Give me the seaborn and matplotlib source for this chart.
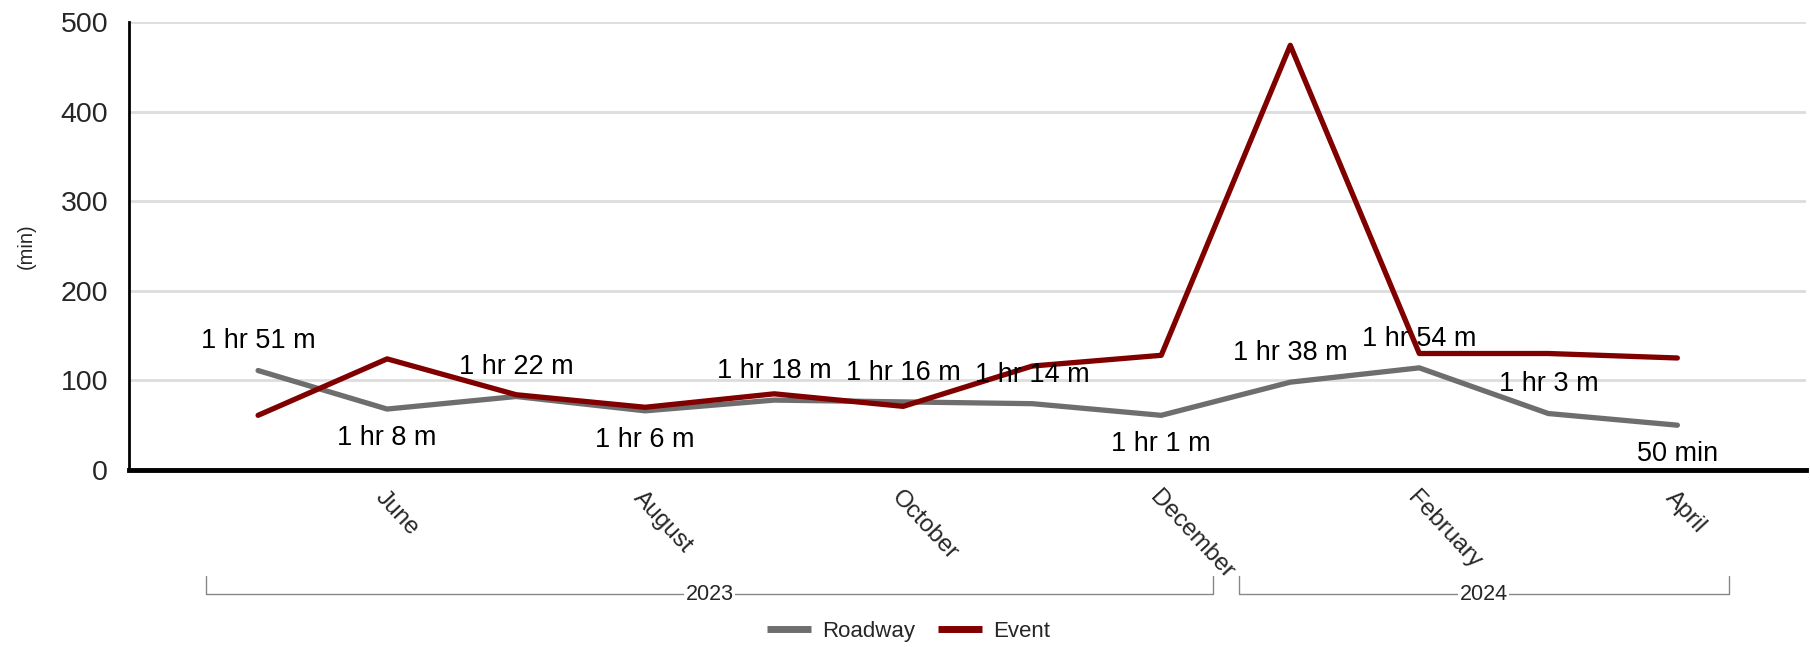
import matplotlib
matplotlib.use('Agg')
import matplotlib.pyplot as plt
import seaborn as sns
import pandas as pd

# monthly average clearance time, May 2023 - April 2024
months = ['May', 'June', 'July', 'August', 'September', 'October', 'November',
          'December', 'January', 'February', 'March', 'April']
years = ['2023'] * 8 + ['2024'] * 4
roadway = [111, 68, 82, 66, 78, 76, 74, 61, 98, 114, 63, 50]
event = [61, 124, 84, 70, 85, 71, 116, 128, 474, 130, 130, 125]
roadway_labels = ['1 hr 51 m', '1 hr 8 m', '1 hr 22 m', '1 hr 6 m', '1 hr 18 m',
                  '1 hr 16 m', '1 hr 14 m', '1 hr 1 m', '1 hr 38 m', '1 hr 54 m',
                  '1 hr 3 m', '50 min']
# label placement: +1 above the point, -1 below
label_side = [1, -1, 1, -1, 1, 1, 1, -1, 1, 1, 1, -1]

sns.set_style('white')
plt.rcParams['font.family'] = ['Liberation Sans', 'DejaVu Sans']

df = pd.DataFrame({'idx': range(len(months)), 'Roadway': roadway, 'Event': event})
long_df = df.melt(id_vars='idx', var_name='series', value_name='minutes')

fig = plt.figure(figsize=(18.1, 6.47), dpi=100)
ax = fig.add_axes([0.0713, 0.2736, 0.9267, 0.6924])

sns.lineplot(data=long_df, x='idx', y='minutes', hue='series',
             palette={'Roadway': '#6e6e6e', 'Event': '#800000'},
             linewidth=3.8, ax=ax, legend=False, zorder=3)

# value labels for roadway series
for i, (v, lab, side) in enumerate(zip(roadway, roadway_labels, label_side)):
    ax.annotate(lab, (i, v), xytext=(0, 21 * side), textcoords='offset points',
                ha='center', va='center', fontsize=19.5, color='black', zorder=5)

ax.set_xlim(-1, 12)
ax.set_ylim(0, 500)
ax.set_yticks([0, 100, 200, 300, 400, 500])
ax.yaxis.grid(True, color='#dddddd', linewidth=2)
ax.set_axisbelow(True)
ax.tick_params(axis='y', labelsize=20.5, length=12, color='#bbbbbb', width=1.5, pad=3)

tick_pos = [-1] + list(range(1, 12, 2))
ax.set_xticks(tick_pos)
ax.set_xticklabels([''] + [months[i] for i in range(1, 12, 2)])
ax.tick_params(axis='x', length=8, color='#999999', width=1, pad=4)
for t in ax.get_xticklabels():
    t.set_rotation(-47)
    t.set_ha('left')
    t.set_va('top')
    t.set_rotation_mode('anchor')
    t.set_fontsize(17.5)

for s in ['top', 'right']:
    ax.spines[s].set_visible(False)
ax.spines['left'].set_color('black')
ax.spines['left'].set_linewidth(2)
ax.spines['bottom'].set_color('black')
ax.spines['bottom'].set_linewidth(3.5)

ax.set_xlabel('')
ax.set_ylabel('(min)', fontsize=14.5, labelpad=18)

# year brackets below the month labels
trans = ax.get_xaxis_transform()
for yr in ['2023', '2024']:
    idxs = [i for i, y in enumerate(years) if y == yr]
    x0, x1 = idxs[0] - 0.4, idxs[-1] + 0.4
    ax.plot([x0, x0, x1, x1], [-0.237, -0.277, -0.277, -0.237], transform=trans,
            color='#888888', linewidth=1, clip_on=False)
    ax.text((x0 + x1) / 2, -0.277, yr, transform=trans, ha='center', va='center',
            fontsize=15.5, bbox=dict(facecolor='white', edgecolor='none', pad=1))

handles = [plt.Line2D([], [], color='#6e6e6e', linewidth=5, solid_capstyle='butt'),
           plt.Line2D([], [], color='#800000', linewidth=5, solid_capstyle='butt')]
fig.legend(handles, ['Roadway', 'Event'], loc='center', bbox_to_anchor=(0.502, 0.024),
           ncol=2, frameon=False, fontsize=16, handlelength=2.0, columnspacing=1.0,
           handletextpad=0.5)

fig.savefig('out.png', dpi=100)
